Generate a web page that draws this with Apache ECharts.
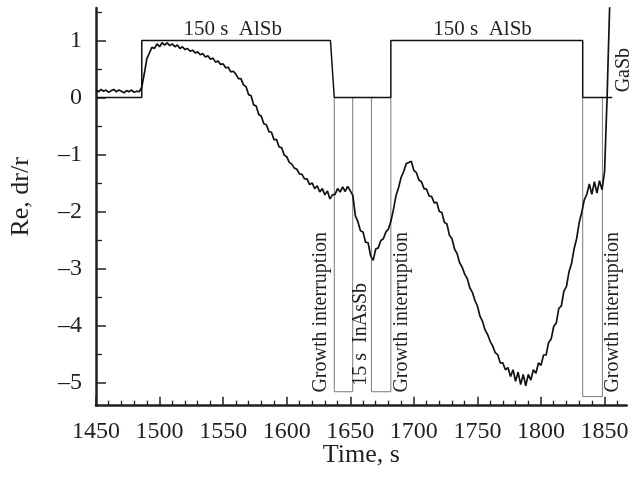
<!DOCTYPE html>
<html>
<head>
<meta charset="utf-8">
<script src="https://cdn.jsdelivr.net/npm/echarts@6/dist/echarts.min.js"></script>
<style>
  html, body { margin: 0; padding: 0; background: #ffffff; }
  #chart { width: 636px; height: 479px; }
</style>
</head>
<body>
<div id="chart"></div>
<script>
// Axis tick values
const xTicks = [1450, 1500, 1550, 1600, 1650, 1700, 1750, 1800, 1850];
const yTicks = [-5, -4, -3, -2, -1, 0, 1];

// Reflectance-difference transient Re(dr/r) versus growth time [s, Re]
const reTrace = [
  [1450,0.13],[1452,0.10],[1454,0.14],[1456,0.11],[1458,0.13],[1460,0.09],[1462,0.12],[1464,0.14],
  [1466,0.10],[1468,0.13],[1470,0.11],[1472,0.08],[1474,0.12],[1476,0.10],[1478,0.13],[1480,0.09],
  [1482,0.11],[1484,0.10],[1486,0.18],[1488,0.42],[1490,0.68],[1492,0.78],[1494,0.88],[1496,0.86],
  [1498,0.94],[1500,0.89],[1502,0.96],[1504,0.92],[1506,0.96],[1508,0.91],[1510,0.94],[1512,0.89],
  [1514,0.92],[1516,0.86],[1518,0.89],[1520,0.84],[1522,0.86],[1524,0.81],[1526,0.83],[1528,0.78],
  [1530,0.80],[1532,0.75],[1534,0.77],[1536,0.71],[1538,0.73],[1540,0.67],[1542,0.69],[1544,0.62],
  [1546,0.64],[1548,0.58],[1550,0.59],[1552,0.52],[1554,0.53],[1556,0.45],[1558,0.46],[1560,0.41],
  [1562,0.33],[1564,0.33],[1566,0.22],[1568,0.19],[1570,0.05],[1572,0.03],[1574,-0.13],[1576,-0.15],
  [1578,-0.30],[1580,-0.33],[1582,-0.46],[1584,-0.48],[1586,-0.60],[1588,-0.61],[1590,-0.74],[1592,-0.74],
  [1594,-0.87],[1596,-0.88],[1598,-1.01],[1600,-1.04],[1602,-1.14],[1604,-1.17],[1606,-1.24],[1608,-1.26],
  [1610,-1.34],[1612,-1.35],[1614,-1.43],[1616,-1.43],[1618,-1.53],[1620,-1.50],[1622,-1.60],[1624,-1.55],
  [1626,-1.66],[1628,-1.60],[1630,-1.71],[1632,-1.64],[1634,-1.78],[1636,-1.71],[1638,-1.70],[1640,-1.60],
  [1642,-1.66],[1644,-1.57],[1646,-1.65],[1648,-1.56],[1650,-1.64],[1652,-1.72],[1654,-2.08],[1656,-2.18],
  [1658,-2.34],[1660,-2.36],[1662,-2.54],[1664,-2.55],[1666,-2.78],[1668,-2.86],[1670,-2.66],[1672,-2.64],
  [1674,-2.51],[1676,-2.48],[1678,-2.36],[1680,-2.31],[1682,-2.17],[1684,-1.96],[1686,-1.72],[1688,-1.58],
  [1690,-1.40],[1692,-1.30],[1694,-1.16],[1696,-1.14],[1698,-1.12],[1700,-1.28],[1702,-1.32],[1704,-1.45],
  [1706,-1.48],[1708,-1.60],[1710,-1.61],[1712,-1.73],[1714,-1.74],[1716,-1.85],[1718,-1.84],[1720,-2.00],
  [1722,-2.02],[1724,-2.19],[1726,-2.22],[1728,-2.42],[1730,-2.48],[1732,-2.66],[1734,-2.74],[1736,-2.90],
  [1738,-2.98],[1740,-3.10],[1742,-3.18],[1744,-3.34],[1746,-3.42],[1748,-3.56],[1750,-3.66],[1752,-3.84],
  [1754,-3.93],[1756,-4.08],[1758,-4.16],[1760,-4.28],[1762,-4.36],[1764,-4.48],[1766,-4.52],[1768,-4.66],
  [1770,-4.66],[1772,-4.78],[1774,-4.74],[1776,-4.90],[1778,-4.78],[1780,-4.98],[1782,-4.82],[1784,-5.04],
  [1786,-4.86],[1788,-5.06],[1790,-4.86],[1792,-4.96],[1794,-4.78],[1796,-4.84],[1798,-4.66],[1800,-4.70],
  [1802,-4.52],[1804,-4.52],[1806,-4.30],[1808,-4.24],[1810,-4.02],[1812,-3.96],[1814,-3.70],[1816,-3.66],
  [1818,-3.40],[1820,-3.32],[1822,-3.06],[1824,-2.92],[1826,-2.66],[1828,-2.48],[1830,-2.20],[1832,-2.02],
  [1834,-1.80],[1836,-1.70],[1838,-1.52],[1840,-1.70],[1842,-1.48],[1844,-1.68],[1846,-1.46],[1848,-1.62],
  [1850,-1.30],[1851,-0.63],[1852,0.01],[1853,0.83],[1854,1.60]
];

// Shutter sequence: 1 = AlSb open, 0 = closed
const shutterTime  = [1450, 1486, 1486, 1634.4, 1637.4, 1681.9, 1681.9, 1832.8, 1832.8, 1856];
const shutterLevel = [0, 0, 1, 1, 0, 0, 1, 1, 0, 0];

// Growth-interruption windows [start s, end s, marker depth]
const pauseStart = [1637.4, 1666.6, 1832.8];
const pauseEnd   = [1651.9, 1681.9, 1848.3];
const pauseDepth = [-5.165, -5.165, -5.25];

// Text annotations anchored in data coordinates
const notes = [
  { text: '150 s  AlSb', at: [1557.5, 1.20], rotate: 0 },
  { text: '150 s  AlSb', at: [1754.0, 1.20], rotate: 0 },
  { text: 'Growth interruption', at: [1626.4, -5.18], rotate: 90 },
  { text: '15 s  InAsSb', at: [1658.6, -5.06], rotate: 90 },
  { text: 'Growth interruption', at: [1690.4, -5.18], rotate: 90 },
  { text: 'Growth interruption', at: [1856.8, -5.18], rotate: 90 },
  { text: 'GaSb', at: [1865.4, 0.09], rotate: 90 }
];

const FONT = "'Liberation Serif', 'Times New Roman', serif";
const INK = '#231f20';
const X_MIN = 1450, X_MAX = 1867.4, Y_MIN = -5.41, Y_MAX = 1.57;

// minor tick positions
const xMinor = [];
for (let t = 1460; t <= 1860; t += 10) if (t % 50 !== 0) xMinor.push(t);
const yMinor = [];
for (let v = -4.5; v <= 1.5; v += 1) yMinor.push(v);

const chart = echarts.init(document.getElementById('chart'), null, { renderer: 'canvas' });

const pauseSeries = pauseStart.map((s, i) => ({
  type: 'line',
  data: [[s, 0], [s, pauseDepth[i]], [pauseEnd[i], pauseDepth[i]], [pauseEnd[i], 0]],
  symbol: 'none',
  silent: true,
  lineStyle: { color: '#7a7a7a', width: 1 },
  z: 2
}));

const option = {
  animation: false,
  backgroundColor: '#ffffff',
  grid: { left: 81.7, right: 636 - 626.7, top: 8, bottom: 479 - 405.7, containLabel: false },
  xAxis: [
    {
      type: 'value', min: X_MIN, max: X_MAX,
      name: 'Time, s', nameLocation: 'middle', nameGap: 36, nameMoveOverlap: false,
      nameTextStyle: { fontFamily: FONT, fontSize: 26, color: INK, verticalAlign: 'top' },
      axisLine: { onZero: false, lineStyle: { color: INK, width: 2.5 } },
      axisTick: { inside: true, length: 9, customValues: xTicks, lineStyle: { color: INK, width: 1.5 } },
      axisLabel: {
        customValues: xTicks, fontFamily: FONT, fontSize: 24, color: INK, margin: 14,
        formatter: v => String(v)
      },
      splitLine: { show: false }
    },
    {
      type: 'value', min: X_MIN, max: X_MAX, position: 'bottom',
      axisLine: { show: false, onZero: false },
      axisTick: { inside: true, length: 5, customValues: xMinor, lineStyle: { color: INK, width: 1.3 } },
      axisLabel: { show: false },
      splitLine: { show: false }
    }
  ],
  yAxis: [
    {
      type: 'value', min: Y_MIN, max: Y_MAX,
      name: 'Re, dr/r', nameLocation: 'middle', nameRotate: 90, nameGap: 62, nameMoveOverlap: false,
      nameTextStyle: { fontFamily: FONT, fontSize: 26, color: INK, padding: [0, 0, 0, 20] },
      axisLine: { onZero: false, lineStyle: { color: INK, width: 2.5 } },
      axisTick: { inside: true, length: 10, customValues: yTicks, lineStyle: { color: INK, width: 1.5 } },
      axisLabel: {
        customValues: yTicks, fontFamily: FONT, fontSize: 24, color: INK, margin: 14,
        formatter: v => (v < 0 ? '\u2013' + Math.abs(v) : String(v))
      },
      splitLine: { show: false }
    },
    {
      type: 'value', min: Y_MIN, max: Y_MAX, position: 'left',
      axisLine: { show: false, onZero: false },
      axisTick: { inside: true, length: 6, customValues: yMinor, lineStyle: { color: INK, width: 1.3 } },
      axisLabel: { show: false },
      splitLine: { show: false }
    }
  ],
  series: [
    ...pauseSeries,
    {
      type: 'line',
      name: 'shutter',
      data: shutterTime.map((t, i) => [t, shutterLevel[i]]),
      symbol: 'none',
      silent: true,
      lineStyle: { color: '#111111', width: 1.5 },
      z: 3
    },
    {
      type: 'line',
      name: 'Re',
      data: reTrace,
      symbol: 'none',
      clip: true,
      silent: true,
      lineStyle: { color: '#111111', width: 1.7 },
      z: 4
    },
    {
      type: 'scatter',
      name: 'notes',
      symbolSize: 1,
      itemStyle: { color: 'rgba(0,0,0,0)' },
      silent: true,
      z: 5,
      data: notes.map(n => ({
        value: n.at,
        label: {
          show: true,
          formatter: n.text,
          position: 'inside',
          rotate: n.rotate,
          align: n.rotate ? 'left' : 'center',
          verticalAlign: 'middle',
          fontFamily: FONT,
          fontSize: n.rotate ? 20 : 21,
          color: INK,
          opacity: 1
        }
      }))
    }
  ]
};

chart.setOption(option);
</script>
</body>
</html>
